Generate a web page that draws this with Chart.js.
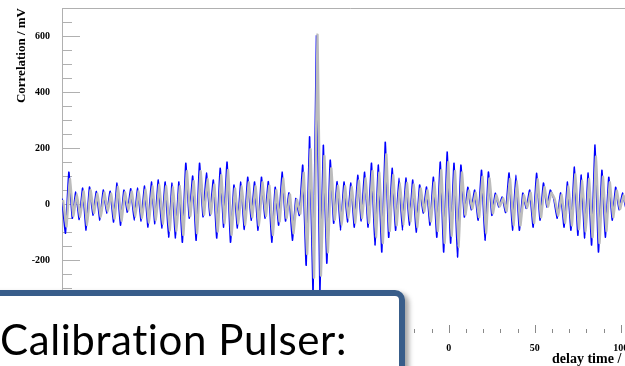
<!DOCTYPE html>
<html>
<head>
<meta charset="utf-8">
<script src="https://cdn.jsdelivr.net/npm/chart.js@4.4.1/dist/chart.umd.min.js"></script>
<style>
  html, body { margin: 0; padding: 0; background: #fff; }
  body { width: 625px; height: 366px; overflow: hidden; position: relative; }
  #corr { position: absolute; left: 0; top: 0; display: block; }
  #note {
    position: absolute; left: -20px; top: 290px; width: 425px; height: 110px;
    box-sizing: border-box; border: 6px solid #385d8a; border-radius: 0 10px 0 0;
    background: #fff; box-shadow: 4px 3px 5px rgba(0,0,0,0.35);
  }
  #noteText {
    position: absolute; left: 0; top: 314px; line-height: 50px;
    font-family: Lato, "Open Sans", sans-serif; font-size: 42px; color: #000;
    letter-spacing: 0.6px; font-variant-ligatures: none;
    white-space: nowrap;
  }
</style>
</head>
<body>
<canvas id="corr" width="660" height="366"></canvas>
<div id="note"></div>
<div id="noteText">Calibration Pulser:</div>
<script>
// sampling grid of the correlation (ns)
const delayStart = -225;
const delayStep = 2;
const greyShift = 0.6;

// correlation, channel pair A (mV)
const corrBlue = [
  20, -104, 114, -50, 43, -55, 57, -93, 61, -39, 45, -57, 50, -32, 46, -64, 75, -75, 50, -29,
  55, -57, 57, -60, 64, -82, 79, -70,
  86, -85, 79, -118, 75, -121, 79, -136, 146, -50, 100, -129, 146, -45, 111, -40, 86, -121, 128, -82,
  150, -136, 68, -85, 79, -90, 96,
  -57, 79, -93, 96, -50, 80, -136, 60, -75, 114, -60, 40, -129, 20, -40, 139, -218, 240, -320, 600,
  -310, 210, -211, 157, -68, 80, -93, 79,
  -64, 75, -82, 103, -60, 114, -82, 146, -146, 139, -171, 221, -118, 128, -93, 93, -93, 93, -75, 86,
  -100, 68, -32, 61, -75, 96, -118,
  150, -171, 186, -139, 146, -189, 139, -46, 60, -20, 50, -57, 121, -129, 114, -40, 39, -10, 25, -30,
  111, -93, 104, -93, 39, -15, 50, -82,
  110, -57, 75, -10, 50, 20, -50, 40, -82, 79, -93, 132, -111, 104, -121, 111, -146, 211, -171, 121,
  -118, 96, -57, 60, -20, 40, -15, 30
];

// correlation, channel pair B (mV)
const corrGrey = [
  15, -80, 90, -42, 36, -45, 46, -75, 50, -32, 38, -46, 42, -27, 38, -52, 62, -60, 42, -24,
  45, -46, 47, -50, 52, -66, 64, -58,
  70, -70, 64, -96, 62, -98, 64, -110, 118, -42, 82, -104, 118, -38, 90, -34, 70, -98, 104, -68,
  122, -110, 56, -70, 64, -74, 78,
  -47, 64, -76, 78, -42, 66, -110, 50, -62, 92, -50, 34, -104, 16, -34, 112, -178, 196, -262, 605,
  -255, 172, -172, 128, -56, 66, -76, 64,
  -52, 62, -67, 84, -50, 92, -67, 118, -118, 113, -139, 178, -96, 104, -76, 76, -76, 76, -62, 70,
  -82, 56, -27, 50, -62, 78, -96,
  122, -139, 150, -113, 118, -153, 113, -38, 49, -17, 41, -47, 98, -104, 92, -33, 32, -8, 21, -25,
  90, -76, 84, -76, 32, -13, 41, -67,
  89, -47, 61, -9, 41, 17, -41, 33, -67, 64, -76, 107, -90, 84, -98, 90, -118, 170, -139, 98,
  -96, 78, -47, 49, -17, 33, -13, 25
];

const yLabelEvery = 200;
const xLabelEvery = 50;

function toPoints(values, start) {
  return values.map((v, i) => ({ x: start + i * delayStep, y: v }));
}

/* ROOT-like frame: thin grey top/left lines and inward tick marks */
const rootFrame = {
  id: 'rootFrame',
  beforeDatasetsDraw(chart) {
    const { ctx, chartArea: a, scales: { x, y } } = chart;
    ctx.save();
    ctx.strokeStyle = '#b0b0b0';
    ctx.lineWidth = 1;
    ctx.beginPath();
    ctx.moveTo(a.left + 0.5, a.bottom);
    ctx.lineTo(a.left + 0.5, a.top + 0.5);
    ctx.lineTo(a.right, a.top + 0.5);
    y.ticks.forEach(t => {
      const py = Math.round(y.getPixelForValue(t.value)) + 0.5;
      const len = t.value % yLabelEvery === 0 ? 18 : 10;
      ctx.moveTo(a.left, py);
      ctx.lineTo(a.left + len, py);
    });
    ctx.stroke();
    ctx.strokeStyle = '#8a8a8a';
    ctx.beginPath();
    x.ticks.forEach(t => {
      const px = Math.round(x.getPixelForValue(t.value)) + 0.5;
      const len = t.value % xLabelEvery === 0 ? 8 : 4;
      ctx.moveTo(px, a.bottom);
      ctx.lineTo(px, a.bottom - len);
    });
    ctx.stroke();
    ctx.restore();
  }
};

const serifBold = { family: '"Liberation Serif", "DejaVu Serif", serif', weight: 'bold' };

new Chart(document.getElementById('corr'), {
  type: 'line',
  data: {
    datasets: [
      {
        data: toPoints(corrGrey, delayStart + greyShift),
        borderColor: '#bcbcbc',
        borderWidth: 2.4,
        pointRadius: 0,
        tension: 0.1,
        order: 0
      },
      {
        data: toPoints(corrBlue, delayStart),
        borderColor: '#0000ff',
        borderWidth: 1.6,
        pointRadius: 0,
        tension: 0.1,
        order: 1
      }
    ]
  },
  options: {
    responsive: false,
    animation: false,
    events: [],
    layout: { padding: { top: 8, right: 22, left: 0, bottom: 0 } },
    plugins: { legend: { display: false }, tooltip: { enabled: false } },
    scales: {
      x: {
        type: 'linear',
        min: -225,
        max: 110,
        afterFit: s => { s.height = 33; s.paddingLeft = 0; s.paddingRight = 0; },
        grid: { display: false, drawTicks: false },
        border: { display: false },
        ticks: {
          stepSize: 10,
          includeBounds: false,
          autoSkip: false,
          maxRotation: 0,
          padding: 9,
          color: '#000',
          font: { ...serifBold, size: 10 },
          callback: v => (v % xLabelEvery === 0 ? v : '')
        },
        title: {
          display: true,
          text: 'delay time / ns',
          align: 'end',
          color: '#000',
          font: { ...serifBold, size: 14, lineHeight: 1 },
          padding: { top: 0, bottom: 0 }
        }
      },
      y: {
        type: 'linear',
        min: -460,
        max: 700,
        afterFit: s => { s.width = 62; s.paddingTop = 0; s.paddingBottom = 0; },
        grid: { display: false, drawTicks: false },
        border: { display: false },
        ticks: {
          stepSize: 50,
          includeBounds: false,
          autoSkip: false,
          padding: 12,
          color: '#000',
          font: { ...serifBold, size: 10 },
          callback: v => (v % yLabelEvery === 0 ? v : '')
        },
        title: {
          display: true,
          text: 'Correlation / mV',
          align: 'end',
          color: '#000',
          font: { ...serifBold, size: 13, lineHeight: 1 },
          padding: { top: 15, bottom: 0 }
        }
      }
    }
  },
  plugins: [rootFrame]
});
</script>
</body>
</html>
